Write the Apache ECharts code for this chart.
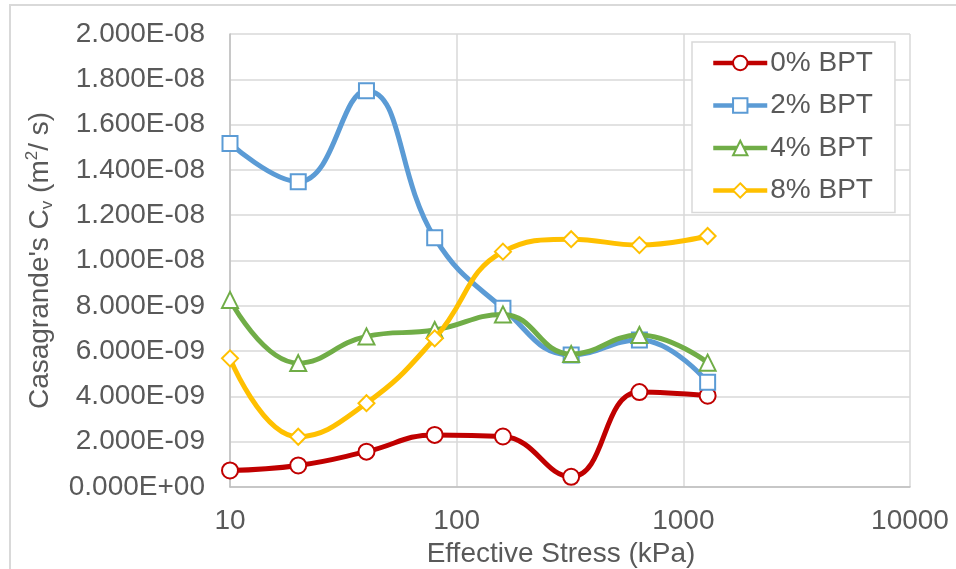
<!DOCTYPE html>
<html>
<head>
<meta charset="utf-8">
<script src="https://cdn.jsdelivr.net/npm/echarts@6/dist/echarts.min.js"></script>
<style>
html,body{margin:0;padding:0;background:#fff;}
#chart{width:956px;height:569px;}
</style>
</head>
<body>
<div id="chart"></div>
<script>
var stress = [10, 20, 40, 80, 160, 320, 640, 1280];
var seriesNames = ['0% BPT', '2% BPT', '4% BPT', '8% BPT'];
var bpt0 = [0.73e-9, 0.95e-9, 1.56e-9, 2.30e-9, 2.23e-9, 0.45e-9, 4.19e-9, 4.03e-9];
var bpt2 = [15.17e-9, 13.48e-9, 17.50e-9, 11.0e-9, 7.89e-9, 5.83e-9, 6.49e-9, 4.62e-9];
var bpt4 = [8.26e-9, 5.47e-9, 6.65e-9, 6.93e-9, 7.62e-9, 5.87e-9, 6.71e-9, 5.49e-9];
var bpt8 = [5.68e-9, 2.22e-9, 3.70e-9, 6.56e-9, 10.39e-9, 10.94e-9, 10.68e-9, 11.08e-9];
var xTickLabels = ['10', '100', '1000', '10000'];

var colors = ['#C00000', '#5B9BD5', '#70AD47', '#FFC000'];
var symbols = ['circle', 'rect', 'triangle', 'diamond'];
var symbolSizes = [16, 15, 16, 16];
var allData = [bpt0, bpt2, bpt4, bpt8];

function fmtE(v) {
  if (Math.abs(v) < 1e-20) return '0.000E+00';
  var s = v.toExponential(3);
  var parts = s.split('e');
  var exp = parseInt(parts[1], 10);
  var sign = exp < 0 ? '-' : '+';
  var ae = Math.abs(exp);
  return parts[0] + 'E' + sign + (ae < 10 ? '0' + ae : ae);
}

var FONT = '"Liberation Sans", Arial, sans-serif';
var FS = 28;
var series = allData.map(function (arr, i) {
  return {
    name: seriesNames[i],
    type: 'line',
    smooth: 0.45,
    data: stress.map(function (x, j) { return [x, arr[j]]; }),
    symbol: symbols[i],
    symbolSize: symbolSizes[i],
    showAllSymbol: true,
    lineStyle: { color: colors[i], width: 5 },
    itemStyle: { color: '#ffffff', borderColor: colors[i], borderWidth: 2 },
    emphasis: { disabled: true },
    z: 2 + i
  };
});

var chart = echarts.init(document.getElementById('chart'), null, { renderer: 'canvas' });
chart.setOption({
  animation: false,
  backgroundColor: '#ffffff',
  textStyle: { fontFamily: FONT },
  graphic: [{
    type: 'rect',
    shape: { x: 10, y: 5, width: 960, height: 580 },
    style: { fill: 'none', stroke: '#d9d9d9', lineWidth: 2 },
    silent: true,
    z: -10
  }],
  grid: { left: 230, right: 46, top: 34, bottom: 82, containLabel: false, outerBoundsMode: 'none' },
  legend: {
    data: seriesNames,
    orient: 'vertical',
    left: 692,
    top: 42,
    padding: [7, 22, 8, 19],
    itemWidth: 54,
    itemHeight: 18,
    itemGap: 14.5,
    backgroundColor: '#ffffff',
    borderColor: '#d9d9d9',
    borderWidth: 1.5,
    lineStyle: { width: 4.5 },
    textStyle: { fontSize: FS, color: '#595959', fontFamily: FONT, padding: [0, 0, 0, -2] }
  },
  xAxis: {
    type: 'log',
    logBase: 10,
    min: 10,
    max: 10000,
    name: 'Effective Stress (kPa)',
    nameLocation: 'middle',
    nameGap: 52,
    nameTextStyle: { fontSize: FS, color: '#595959', fontFamily: FONT, padding: [0, 18, 0, 0] },
    axisLine: { show: true, lineStyle: { color: '#bfbfbf', width: 1.5 } },
    axisTick: { show: false },
    minorTick: { show: false },
    axisLabel: {
      fontSize: FS, color: '#595959', margin: 20, fontFamily: FONT,
      formatter: function (v) {
        var idx = Math.round(Math.log(v) / Math.LN10) - 1;
        return xTickLabels[idx] !== undefined ? xTickLabels[idx] : String(v);
      }
    },
    splitLine: { show: true, lineStyle: { color: '#d9d9d9', width: 1.5 } }
  },
  yAxis: {
    type: 'value',
    min: 0,
    max: 2e-8,
    interval: 2e-9,
    name: '{n|Casagrande\'s C}{sub|v}{n| (m}{sup|2}{n|/ s)}',
    nameLocation: 'middle',
    nameRotate: 90,
    nameGap: 174,
    nameTextStyle: {
      fontSize: FS, color: '#595959', fontFamily: FONT,
      rich: {
        n: { fontSize: FS, color: '#595959', fontFamily: FONT, lineHeight: 32 },
        sub: { fontSize: 17, color: '#595959', fontFamily: FONT, verticalAlign: 'bottom', lineHeight: 17 },
        sup: { fontSize: 17, color: '#595959', fontFamily: FONT, verticalAlign: 'top', lineHeight: 17 }
      }
    },
    axisLine: { show: true, lineStyle: { color: '#bfbfbf', width: 1.5 } },
    axisTick: { show: false },
    axisLabel: {
      fontSize: FS, color: '#595959', margin: 25, fontFamily: FONT,
      formatter: function (v) { return fmtE(v); }
    },
    splitLine: { show: true, lineStyle: { color: '#d9d9d9', width: 1.5 } }
  },
  series: series
});
</script>
</body>
</html>
